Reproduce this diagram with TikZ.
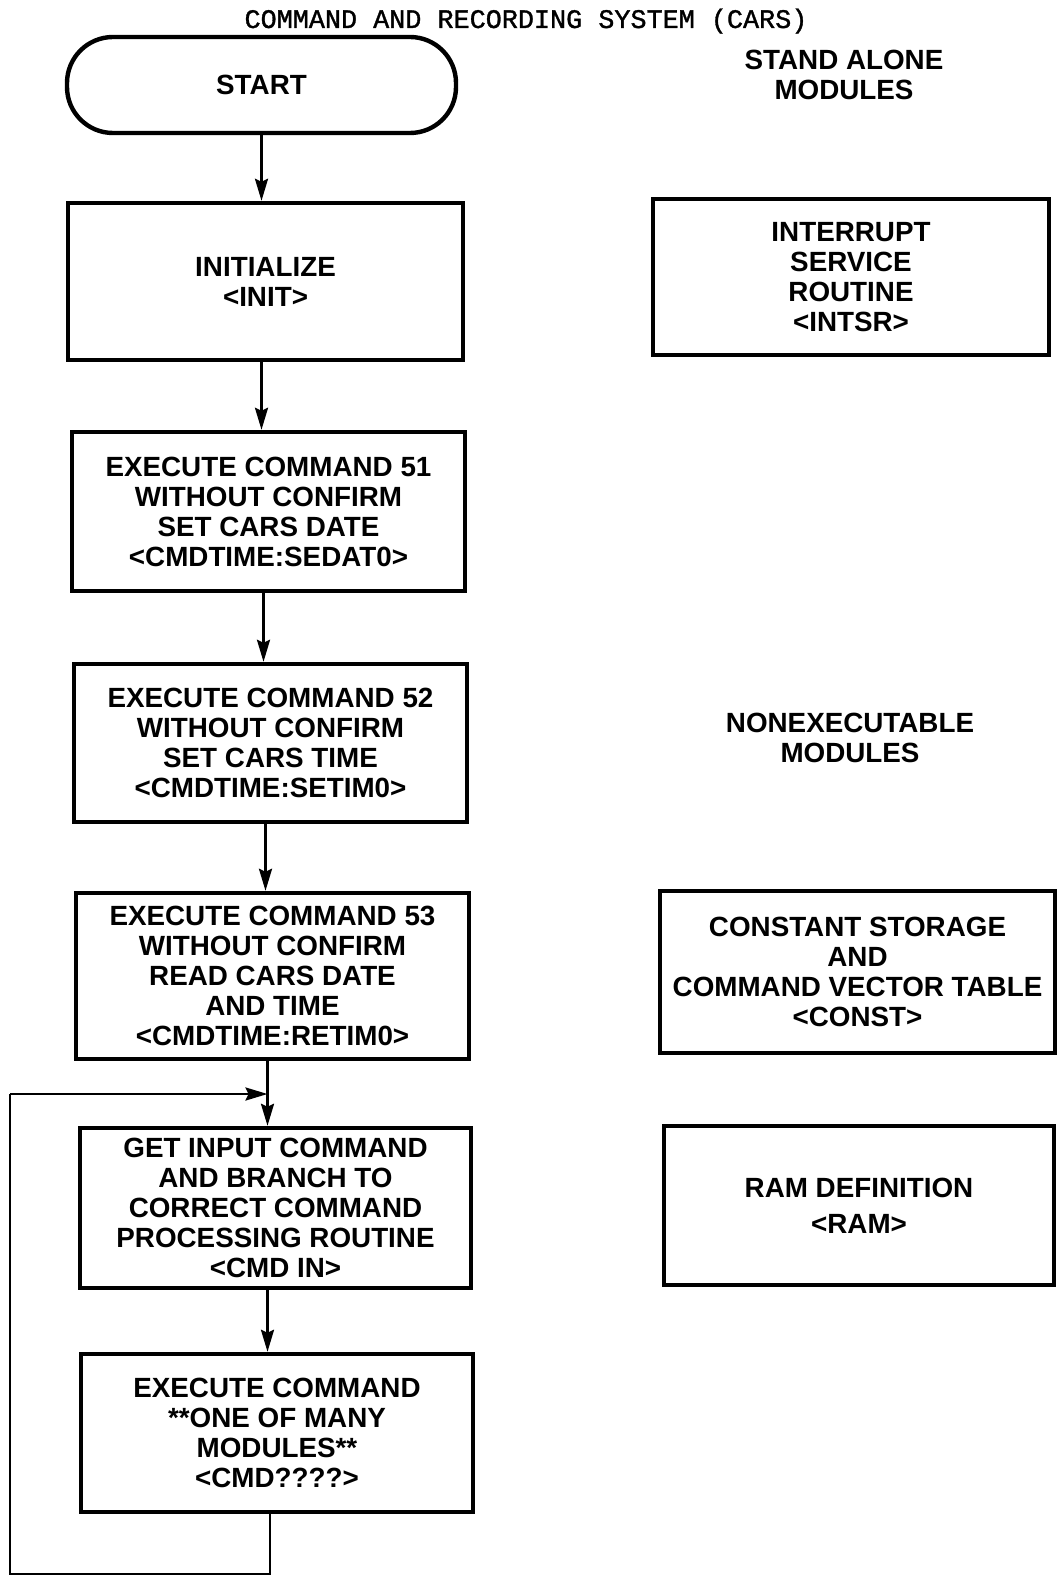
\documentclass[tikz,border=0pt]{standalone}
\usepackage{fontspec}
\newfontfamily\lsans{Liberation Sans}
\newfontfamily\lmono[FakeBold=1.2]{Liberation Mono}
\usetikzlibrary{arrows.meta,calc}
\begin{document}
\begin{tikzpicture}[x=0.5pt,y=-0.5pt,
  box/.style={draw,line width=2.2pt,align=center,inner sep=2pt,
    font=\lsans\bfseries\fontsize{13.9}{15}\selectfont},
  lbl/.style={align=center,font=\lsans\bfseries\fontsize{13.9}{15}\selectfont},
  arr/.style={line width=1.3pt,-{Stealth[length=11pt,width=6.5pt,inset=1.5pt]}},
  ln/.style={line width=1.3pt}]
\useasboundingbox (0,0) rectangle (1057,1577);
\node[anchor=base,font=\lmono\fontsize{13.4}{15}\selectfont] (title) at (526,28) {COMMAND AND RECORDING SYSTEM (CARS)};
\node[box,rounded corners=23pt,minimum width=389*0.5pt,minimum height=96*0.5pt] (start) at (261.5,85) {START};
\node[box,minimum width=395*0.5pt,minimum height=157*0.5pt] (init) at (265.5,281.5) {INITIALIZE\\<INIT>};
\node[box,minimum width=393*0.5pt,minimum height=159*0.5pt] (e51) at (268.5,511.5) {EXECUTE COMMAND 51\\WITHOUT CONFIRM\\SET CARS DATE\\<CMDTIME:SEDAT0>};
\node[box,minimum width=393*0.5pt,minimum height=158*0.5pt] (e52) at (270.5,743) {EXECUTE COMMAND 52\\WITHOUT CONFIRM\\SET CARS TIME\\<CMDTIME:SETIM0>};
\node[box,minimum width=393*0.5pt,minimum height=166*0.5pt] (e53) at (272.5,976) {EXECUTE COMMAND 53\\WITHOUT CONFIRM\\READ CARS DATE\\AND TIME\\<CMDTIME:RETIM0>};
\node[box,minimum width=391*0.5pt,minimum height=160*0.5pt] (getin) at (275.5,1208) {GET INPUT COMMAND\\AND BRANCH TO\\CORRECT COMMAND\\PROCESSING ROUTINE\\<CMD IN>};
\node[box,minimum width=392*0.5pt,minimum height=158*0.5pt] (execmd) at (277,1433) {EXECUTE COMMAND\\**ONE OF MANY\\MODULES**\\<CMD????>};
\node[lbl] (standalone) at (844,75) {STAND ALONE\\MODULES};
\node[box,minimum width=396*0.5pt,minimum height=156*0.5pt] (intsr) at (851,277) {INTERRUPT\\SERVICE\\ROUTINE\\<INTSR>};
\node[lbl] (nonexec) at (850,738) {NONEXECUTABLE\\MODULES};
\node[box,minimum width=395*0.5pt,minimum height=162*0.5pt] (const) at (857.5,972) {CONSTANT STORAGE\\AND\\COMMAND VECTOR TABLE\\<CONST>};
\node[box,minimum width=390*0.5pt,minimum height=159*0.5pt] (ram) at (859,1205.5) {RAM DEFINITION\\[3pt]<RAM>};
% connectors
\draw[arr] (start.south) -- (start.south |- init.north);
\draw[arr] ($(init.south)+(-4,0)$) coordinate (a1) -- (a1 |- e51.north);
\draw[arr] ($(e51.south)+(-5,0)$) coordinate (a2) -- (a2 |- e52.north);
\draw[arr] ($(e52.south)+(-5,0)$) coordinate (a3) -- (a3 |- e53.north);
\draw[arr] ($(e53.south)+(-5,0)$) coordinate (a4) -- (a4 |- getin.north);
\draw[arr] ($(getin.south)+(-8,0)$) coordinate (a5) -- (a5 |- execmd.north);
\coordinate (lp0) at ($(execmd.south)+(-7,0)$);
\coordinate (lp1) at (10,1574);
\coordinate (lp2) at (10,1094);
\coordinate (join) at (a4 |- lp2);
\draw[ln] (lp0) -- (lp0 |- lp1) -- (lp1) -- (lp2);
\draw[arr] (lp2) -- (join);
\end{tikzpicture}
\end{document}
